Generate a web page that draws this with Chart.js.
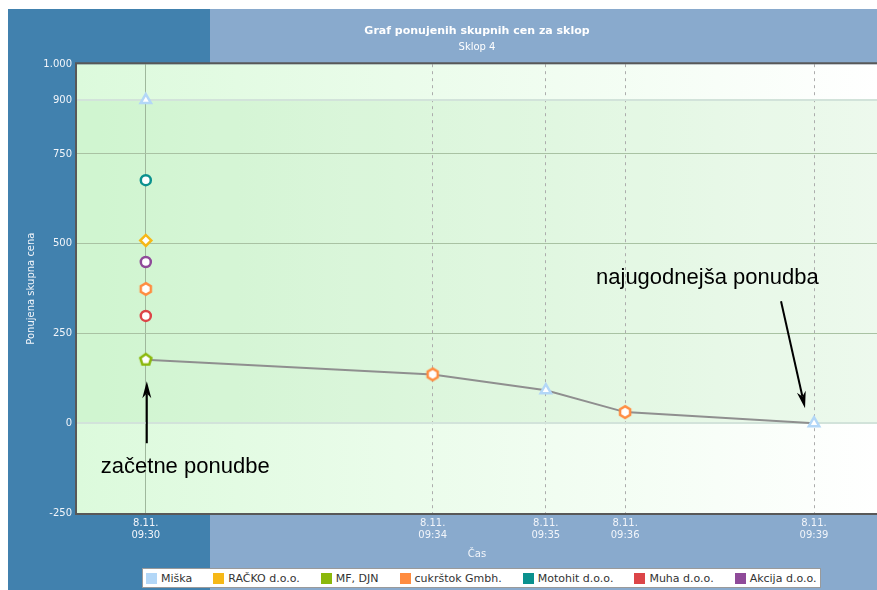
<!DOCTYPE html>
<html lang="sl">
<head>
  <meta charset="UTF-8">
  <title>Graf ponujenih skupnih cen za sklop</title>
  <script src="https://cdn.jsdelivr.net/npm/chart.js"></script>
  <style>
    body { margin: 0; background: #fff; }
    #wrap { position: relative; width: 877px; height: 590px; }
    #legend {
      position: absolute; left: 142px; top: 568px; height: 20px;
      box-sizing: border-box; border: 1px solid #9a9a9a; background: #fff;
      display: flex; align-items: center; padding: 0 4px 0 3px;
      font: 11px "DejaVu Sans", Verdana, sans-serif; color: #333; white-space: nowrap;
    }
    .item { display: flex; align-items: center; margin-right: 21px; }
    .item:last-child { margin-right: 0; }
    .box { width: 11px; height: 11px; margin-right: 4px; }
  </style>
</head>
<body>
  <div id="wrap">
    <canvas id="chart" width="877" height="590"></canvas>
    <div id="legend"></div>
  </div>

  <script>
    // cas ponudbe v sekundah po 09:30:00
    const xTimes = [3, 249, 346, 414, 576];
    const xLabels = [['8.11.', '09:30'], ['8.11.', '09:34'], ['8.11.', '09:35'], ['8.11.', '09:36'], ['8.11.', '09:39']];
    const yTicks = [-250, 0, 250, 500, 750, 900, 1000];
    const yTickLabels = ['-250', '0', '250', '500', '750', '900', '1.000'];

    const seriesNames = ['Miška', 'RAČKO d.o.o.', 'MF, DJN', 'cukrštok Gmbh.', 'Motohit d.o.o.', 'Muha d.o.o.', 'Akcija d.o.o.'];
    const seriesColors = ['#b3d7f7', '#f6b817', '#8bb80b', '#ff8c40', '#0b918e', '#dc4548', '#8f4a99'];

    // ponudbe po casih (null = ni ponudbe)
    const miska    = [900, null, 92, null, 0];
    const racko    = [509, null, null, null, null];
    const mfDjn    = [177, null, null, null, null];
    const cukrstok = [374, 136, null, 31, null];
    const motohit  = [677, null, null, null, null];
    const muha     = [299, null, null, null, null];
    const akcija   = [449, null, null, null, null];
    const bestOffer = [177, 136, 92, 31, 0];

    const seriesValues = [miska, racko, mfDjn, cukrstok, motohit, muha, akcija];
    const FONT = '"DejaVu Sans", Verdana, sans-serif';

    function toPoints(vals) {
      return vals.map((v, i) => ({ x: xTimes[i], y: v })).filter(p => p.y !== null);
    }

    // pentagon / sestkotnik kot slika za pointStyle
    function polygonMarker(sides, color, r) {
      const c = document.createElement('canvas');
      c.width = c.height = 18;
      const g = c.getContext('2d');
      const m = 9;
      g.beginPath();
      for (let k = 0; k < sides; k++) {
        const a = -Math.PI / 2 + k * 2 * Math.PI / sides;
        const px = m + r * Math.cos(a), py = m + r * Math.sin(a);
        if (k) g.lineTo(px, py); else g.moveTo(px, py);
      }
      g.closePath();
      g.fillStyle = '#fff';
      g.fill();
      g.lineWidth = 2.5;
      g.strokeStyle = color;
      g.stroke();
      return c;
    }

    const markerStyles = [
      'triangle', 'rectRot', polygonMarker(5, seriesColors[2], 5.8),
      polygonMarker(6, seriesColors[3], 5.8), 'circle', 'circle', 'circle'
    ];
    const markerRadius = [6, 5.5, 5, 5, 5, 5, 5];

    const datasets = seriesNames.map((name, i) => ({
      label: name,
      data: toPoints(seriesValues[i]),
      showLine: false,
      pointStyle: markerStyles[i],
      pointRadius: markerRadius[i],
      pointBorderWidth: 2.5,
      pointBackgroundColor: '#fff',
      pointBorderColor: seriesColors[i],
      borderColor: seriesColors[i],
      backgroundColor: seriesColors[i]
    }));
    // crta najugodnejse ponudbe (narisana pod markerji)
    datasets.push({
      label: 'najugodnejša',
      data: toPoints(bestOffer),
      borderColor: '#8f8f8f',
      borderWidth: 2,
      pointRadius: 0,
      tension: 0
    });

    function drawArrow(ctx, x1, y1, x2, y2) {
      const ang = Math.atan2(y2 - y1, x2 - x1);
      const len = 17, half = 4.5, notch = 12;
      ctx.beginPath();
      ctx.moveTo(x1, y1);
      ctx.lineTo(x2 - notch * Math.cos(ang), y2 - notch * Math.sin(ang));
      ctx.stroke();
      ctx.beginPath();
      ctx.moveTo(x2, y2);
      ctx.lineTo(x2 - len * Math.cos(ang) + half * Math.sin(ang), y2 - len * Math.sin(ang) - half * Math.cos(ang));
      ctx.lineTo(x2 - notch * Math.cos(ang), y2 - notch * Math.sin(ang));
      ctx.lineTo(x2 - len * Math.cos(ang) - half * Math.sin(ang), y2 - len * Math.sin(ang) + half * Math.cos(ang));
      ctx.closePath();
      ctx.fill();
    }

    const decor = {
      id: 'decor',
      beforeDraw(chart) {
        const { ctx, chartArea: a, scales: { y } } = chart;
        ctx.save();
        ctx.fillStyle = '#fff';
        ctx.fillRect(0, 0, chart.width, chart.height);
        ctx.fillStyle = '#4181ae';
        ctx.fillRect(8, 9, 202, chart.height - 9);
        ctx.fillStyle = '#89aacd';
        ctx.fillRect(210, 9, chart.width - 210, chart.height - 9);

        let g = ctx.createLinearGradient(a.left, 0, a.right, 0);
        g.addColorStop(0, '#dcfadc');
        g.addColorStop(1, '#ffffff');
        ctx.fillStyle = g;
        ctx.fillRect(a.left, a.top, a.width, a.height);

        // pas 0 - 900
        const y0 = y.getPixelForValue(0), y9 = y.getPixelForValue(900);
        ctx.fillStyle = 'rgba(150,220,150,0.17)';
        ctx.fillRect(a.left, y9, a.width, y0 - y9);
        ctx.restore();
      },
      afterDraw(chart) {
        const { ctx, chartArea: a, scales: { x, y } } = chart;
        ctx.save();
        ctx.strokeStyle = '#585858';
        ctx.lineWidth = 2;
        ctx.beginPath();
        ctx.moveTo(chart.width + 2, a.top - 1);
        ctx.lineTo(a.left - 1, a.top - 1);
        ctx.lineTo(a.left - 1, a.bottom + 1);
        ctx.lineTo(chart.width + 2, a.bottom + 1);
        ctx.stroke();

        // opombe
        const x0 = x.getPixelForValue(xTimes[0]);
        const y0 = y.getPixelForValue(0);
        const xl = x.getPixelForValue(xTimes[4]);
        const yl = y.getPixelForValue(miska[4]);
        ctx.fillStyle = '#000';
        ctx.strokeStyle = '#000';
        ctx.lineWidth = 2;
        ctx.font = '22px "Liberation Sans", Arial, sans-serif';
        ctx.textBaseline = 'alphabetic';
        ctx.fillText('začetne ponudbe', x0 - 45, y0 + 50);
        ctx.fillText('najugodnejša ponudba', xl - 218, yl - 139);
        drawArrow(ctx, x0 + 1, y0 + 20, x0 + 1, y0 - 42);
        drawArrow(ctx, xl - 33, yl - 122, xl - 9, yl - 15);
        ctx.restore();
      }
    };

    new Chart(document.getElementById('chart'), {
      type: 'line',
      data: { datasets: datasets },
      plugins: [decor],
      options: {
        responsive: false,
        animation: false,
        layout: { autoPadding: false, padding: { top: 9, bottom: 22, left: 0, right: 0 } },
        plugins: {
          legend: { display: false },
          tooltip: { enabled: false },
          title: {
            display: true, fullSize: false,
            text: 'Graf ponujenih skupnih cen za sklop',
            color: '#fff',
            font: { family: FONT, size: 11, weight: 'bold' },
            padding: { top: 16, bottom: 0 }
          },
          subtitle: {
            display: true, fullSize: false,
            text: 'Sklop 4',
            color: '#fff',
            font: { family: FONT, size: 10 },
            padding: { top: 3, bottom: 11 }
          }
        },
        scales: {
          x: {
            type: 'linear',
            min: -56,
            max: 630,
            afterBuildTicks: s => { s.ticks = xTimes.map(v => ({ value: v })); },
            afterFit: s => { s.height = 55; s.paddingLeft = 0; s.paddingRight = 0; },
            ticks: {
              color: '#f2f5fa',
              font: { family: FONT, size: 10 },
              padding: 4,
              maxRotation: 0,
              autoSkip: false,
              callback: (v, i) => xLabels[i]
            },
            grid: {
              drawTicks: false,
              color: ctx => ctx.index === 0 ? '#9fb89c' : '#acacac',
              lineWidth: 1
            },
            border: { display: false, dash: ctx => ctx.index === 0 ? [] : [3, 4] },
            title: {
              display: true, text: 'Čas', color: '#f2f5fa',
              font: { family: FONT, size: 10 },
              padding: { top: 0, bottom: 8 }
            }
          },
          y: {
            min: -250,
            max: 1000,
            afterBuildTicks: s => { s.ticks = yTicks.map(v => ({ value: v })); },
            afterFit: s => { s.width = 77; },
            ticks: {
              color: '#f2f5fa',
              font: { family: FONT, size: 10 },
              padding: 5,
              callback: (v, i) => yTickLabels[i]
            },
            grid: {
              drawTicks: false,
              color: ctx => {
                const v = ctx.tick ? ctx.tick.value : null;
                if (v === 0 || v === 900) return '#d2e3da';
                if (v === 250 || v === 500 || v === 750) return '#a9c2a3';
                return 'rgba(0,0,0,0)';
              },
              lineWidth: ctx => (ctx.tick && (ctx.tick.value === 0 || ctx.tick.value === 900)) ? 2 : 1
            },
            border: { display: false },
            title: {
              display: true, text: 'Ponujena skupna cena', color: '#f2f5fa',
              font: { family: FONT, size: 10 },
              padding: { top: 25, bottom: 0 }
            }
          }
        }
      }
    });

    // legenda
    const legend = document.getElementById('legend');
    seriesNames.forEach((name, i) => {
      const item = document.createElement('div');
      item.className = 'item';
      const box = document.createElement('span');
      box.className = 'box';
      box.style.background = seriesColors[i];
      item.appendChild(box);
      item.appendChild(document.createTextNode(name));
      legend.appendChild(item);
    });
  </script>
</body>
</html>
